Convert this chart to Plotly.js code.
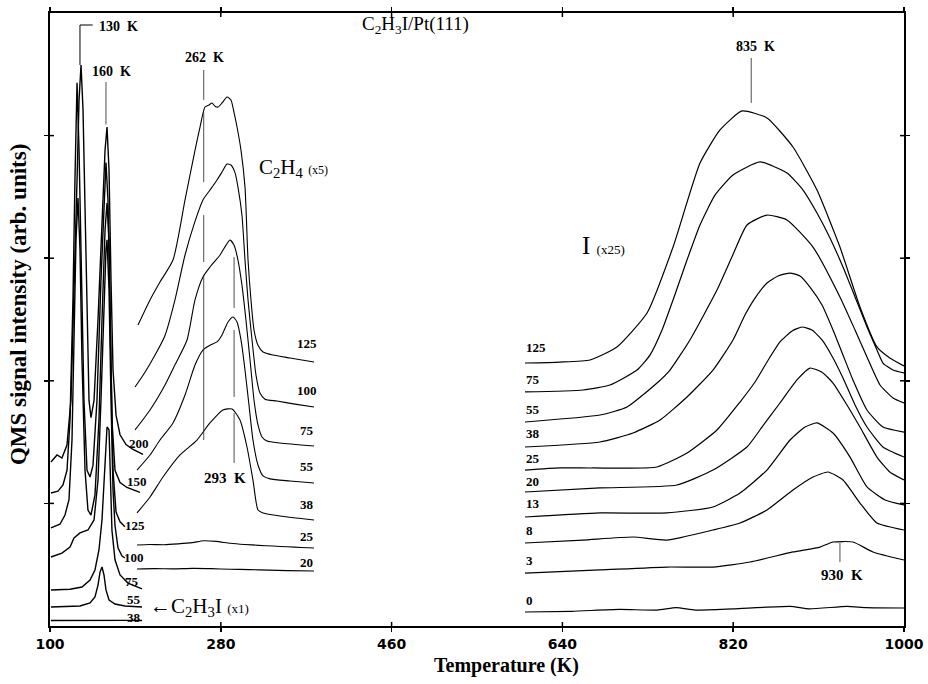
<!DOCTYPE html>
<html>
<head>
<meta charset="utf-8">
<script src="https://cdn.plot.ly/plotly-3.0.1.min.js"></script>
<style>html,body{margin:0;padding:0;background:#fff;}#chart{width:928px;height:684px;}</style>
</head>
<body>
<div id="chart"></div>
<script>
// ---------- C2H3I (x1) desorption, exposures (L) ----------
const L200_T = [101,107.4,112.6,117.9,122.1,125.3,128.5,130.6,132.7,134.8,136.9,139,141.1,143.2,146.4,150.6,154.8,158,160.1,162.2,164.3,166.4,169.6,173.8,180.1,187.5,198];
const L200_V = [1.338,1.395,1.37,1.476,1.843,2.66,3.64,4.29,4.576,4.21,3.47,2.5,1.84,1.7,1.84,2.5,3.31,3.88,4.07,3.72,2.82,2.09,1.72,1.56,1.48,1.44,1.40];
const L150_T = [101,108.4,113.7,117.9,121.1,124.2,126.3,128.5,130.6,132.7,135.8,139,142.2,145.3,149.5,153.7,156.9,159,161.1,163.2,165.3,168.5,173.8,181.1,194.8];
const L150_V = [1.085,1.10,1.15,1.27,1.68,2.66,3.64,4.43,3.88,2.99,1.84,1.27,1.215,1.31,1.84,2.82,3.47,3.78,3.47,2.50,1.68,1.27,1.17,1.13,1.09];
const L125_T = [101,110.5,115.8,120,123.2,125.3,127.4,129.5,131.6,133.7,136.9,140,143.2,147.4,151.6,154.8,158,160.1,162.2,164.3,166.4,169.6,173.8,179];
const L125_V = [0.80,0.83,0.905,1.03,1.52,2.33,3.15,3.49,3.07,2.17,1.27,0.946,0.905,1.07,1.68,2.50,3.23,3.45,3.15,2.17,1.27,0.93,0.85,0.81];
const L100_T = [101,112.6,121.1,125.3,131.6,140,146.4,150.6,153.7,156.9,159,160.1,162.2,164.3,166.4,168.5,171.7,175.9,179];
const L100_V = [0.563,0.595,0.644,0.718,0.759,0.783,0.865,1.19,1.84,2.66,3.07,3.15,2.74,1.84,1.11,0.82,0.636,0.571,0.555];
const L75_T = [101,121,133.7,142.2,147.4,151.6,154.8,156.9,159,160.1,162.2,163.2,165.3,168.5,173.8,182.2,197];
const L75_V = [0.294,0.30,0.318,0.375,0.457,0.62,0.865,1.19,1.52,1.623,1.60,1.27,0.78,0.54,0.416,0.35,0.302];
const L55_T = [101,131.6,142.2,147.4,150.6,152.7,154.8,156.9,159,162.2,168.5,179,197];
const L55_V = [0.155,0.163,0.188,0.237,0.334,0.44,0.481,0.416,0.294,0.212,0.179,0.163,0.155];
const L38_T = [101,120,140,160,180,197];
const L38_V = [0.045,0.046,0.046,0.05,0.046,0.045];

// ---------- C2H4 (x5) ----------
const E125_T = [192.7,205.4,215.9,229.6,242.3,252.8,258.1,263.3,267.6,270.7,273.9,277.1,281.3,286.5,290.7,293.9,297.1,301.3,305.5,308.7,311.8,315,319.2,324.5,335,352.9,378.2];
const E125_V = [2.455,2.66,2.806,2.985,3.475,3.88,4.07,4.233,4.25,4.266,4.24,4.233,4.266,4.315,4.29,4.19,4.07,3.88,3.58,2.985,2.66,2.414,2.29,2.235,2.21,2.186,2.153];
const E100_T = [189.6,200.1,210.7,221.2,231.7,242.3,252.8,261.2,268.6,276,281.3,286.5,290.7,294.9,298.1,302.3,305.5,308.7,312.9,317.1,321.3,326.6,339.2,358.2,378.2];
const E100_V = [1.949,2.07,2.21,2.37,2.66,3.026,3.30,3.475,3.556,3.638,3.703,3.768,3.76,3.70,3.58,3.35,2.985,2.66,2.333,2.047,1.90,1.85,1.835,1.81,1.786];
const E75_T = [189.6,205.4,221.2,231.7,244.4,252.8,261.2,268.6,279.2,285.5,289.7,293.9,298.1,302.3,306.5,310.8,315,319.2,323.4,328.7,342.4,378.2];
const E75_V = [1.599,1.762,1.966,2.13,2.333,2.66,2.847,2.928,3.026,3.107,3.148,3.107,2.985,2.78,2.496,2.17,1.843,1.64,1.542,1.509,1.493,1.468];
const E55_T = [191.7,205.4,215.9,229.6,242.3,252.8,261.2,268.6,276,281.3,287.6,292.9,297.1,301.3,305.5,309.7,313.9,319.2,324.5,331.8,352.9,378.2];
const E55_V = [1.272,1.395,1.517,1.656,1.884,2.129,2.251,2.29,2.317,2.374,2.48,2.52,2.48,2.333,2.088,1.803,1.517,1.313,1.224,1.20,1.183,1.166];
const E38_T = [191.7,205.4,219.1,237,254.9,268.6,282.3,291.8,300.2,307.6,313.9,319.2,324.5,342.4,378.2];
const E38_V = [0.922,1.052,1.215,1.395,1.517,1.656,1.762,1.77,1.68,1.46,1.19,0.946,0.922,0.897,0.865];
const E25_T = [191.7,205,220,235,250,262,275,290,305,320,335,350,365,378.2];
const E25_V = [0.661,0.665,0.663,0.67,0.68,0.695,0.69,0.675,0.665,0.658,0.652,0.646,0.64,0.636];
const E20_T = [191.7,210,230,250,270,290,310,330,350,378.2];
const E20_V = [0.465,0.468,0.466,0.47,0.468,0.463,0.46,0.456,0.452,0.449];

// ---------- I (x25) ----------
const I125_T = [600.6,637.5,669.1,697.5,729.2,756.6,785,806.1,829.3,855.6,883,908.3,932.5,953.6,971.5,985,1000];
const I125_V = [2.145,2.153,2.17,2.276,2.553,3.091,3.776,4.046,4.201,4.144,3.907,3.556,3.091,2.602,2.276,2.186,2.121];
const I75_T = [600.6,661.7,690.2,718.6,732.3,745,756.6,771.3,785,800.8,819.8,848.2,876.7,893.6,908.3,922,935.7,948.4,961,971.5,977.8,988.4,1000];
const I75_V = [1.909,1.925,1.966,2.088,2.21,2.414,2.659,2.985,3.271,3.515,3.679,3.785,3.695,3.556,3.369,3.165,2.928,2.684,2.439,2.251,2.145,2.088,2.064];
const I55_T = [600.6,679.6,708.1,739.7,753.4,774.4,802.9,819.8,834.5,855.6,876.7,904.1,932.5,948.4,961,974.7,988.4,1000];
const I55_V = [1.664,1.721,1.786,1.982,2.088,2.333,2.74,3.03,3.271,3.352,3.312,3.091,2.684,2.414,2.194,1.966,1.86,1.819];
const I38_T = [600.6,679.6,714.4,742.9,771.3,798.7,819.8,832.4,843,855.6,867.2,879.9,890.4,900.9,913.6,925.2,935.7,946.2,961,977.8,1000];
const I38_V = [1.46,1.501,1.574,1.68,1.868,2.088,2.333,2.537,2.675,2.798,2.855,2.879,2.855,2.765,2.618,2.414,2.21,2.007,1.762,1.623,1.582];
const I25_T = [600.6,637.5,672.2,739.7,771.3,802.9,827.2,843,855.6,869.3,882,892.5,903,913.6,925.2,935.7,948.4,961,977.8,1000];
const I25_V = [1.272,1.289,1.289,1.297,1.411,1.599,1.827,1.99,2.153,2.317,2.406,2.439,2.414,2.333,2.186,2.023,1.803,1.623,1.46,1.378];
const I20_T = [600.6,679.6,760.8,798.7,834.5,852,869.3,887.2,900.9,913.6,925.2,939.9,953.6,971.5,985,1000];
const I20_V = [1.093,1.126,1.15,1.272,1.46,1.64,1.819,2.007,2.104,2.07,1.982,1.803,1.623,1.378,1.256,1.191];
const I13_T = [600.6,679.6,750.2,798.7,827.2,855.6,879.9,895.7,908.3,925.2,943.1,961,980,1000];
const I13_V = [0.889,0.922,0.922,0.971,1.085,1.272,1.517,1.623,1.656,1.574,1.378,1.134,1.028,0.987];
const I8_T = [600.6,661.7,714.4,750.2,798.7,827.2,855.6,883,904.1,919.9,935.7,953.6,971.5,1000];
const I8_V = [0.677,0.701,0.726,0.701,0.783,0.84,0.946,1.109,1.215,1.256,1.191,1.003,0.84,0.783];
const I3_T = [600.6,679.6,750.2,798.7,837.7,883,911.5,925.2,946.2,967.3,1000];
const I3_V = [0.432,0.457,0.481,0.481,0.522,0.604,0.644,0.685,0.685,0.604,0.538];
const I0_T = [600.6,650,700,740,760,780,820,880,900,940,960,1000];
const I0_V = [0.114,0.12,0.135,0.13,0.15,0.13,0.14,0.16,0.14,0.16,0.15,0.147];

// ---------- labels ----------
const xTickVals = [100,280,460,640,820,1000];
const xTickText = ["100","280","460","640","820","1000"];
const yTickVals = [1,2,3,4];
const leftLabels = ["200","150","125","100","75","55","38"];
const leftLabelT = [193.3,191.2,189.6,188,186,188,188];
const leftLabelV = [1.489,1.179,0.816,0.559,0.367,0.22,0.073];
const midLabels = ["125","100","75","55","38","25","20"];
const midLabelV = [2.308,1.917,1.591,1.297,0.987,0.726,0.522];
const rightLabels = ["125","75","55","38","25","20","13","8","3","0"];
const rightLabelV = [2.268,2.007,1.762,1.574,1.37,1.175,1.003,0.783,0.538,0.212];
// peak markers (K): position and vertical segments
const markT = [262, 294, 839, 932.5, 159];
const markSegs = [
  [[4.535,4.29],[4.19,3.62],[3.352,2.969],[2.863,1.517]],
  [[3.01,2.594],[2.414,1.868],[1.737,1.33]],
  [[4.633,4.266]],
  [[0.677,0.522]],
  [[4.437,4.09]]
];
const bracket130 = {T:[131.6,131.6,145], V:[4.576,4.902,4.902]};

const serif = "Liberation Serif, Times New Roman, serif";
const traces = [];
function addCurve(T, V, w, shape, sm) {
  traces.push({x:T, y:V, type:'scatter', mode:'lines', hoverinfo:'skip',
    line:{color:'#000', width:w, shape:shape, smoothing:sm}});
}
[[L200_T,L200_V],[L150_T,L150_V],[L125_T,L125_V],[L100_T,L100_V],[L75_T,L75_V],[L55_T,L55_V],[L38_T,L38_V]]
  .forEach(c => addCurve(c[0], c[1], 1.4, 'linear', 0));
[[E125_T,E125_V],[E100_T,E100_V],[E75_T,E75_V],[E55_T,E55_V],[E38_T,E38_V],[E25_T,E25_V],[E20_T,E20_V]]
  .forEach(c => addCurve(c[0], c[1], 1.1, 'spline', 0.6));
[[I125_T,I125_V],[I75_T,I75_V],[I55_T,I55_V],[I38_T,I38_V],[I25_T,I25_V],[I20_T,I20_V],[I13_T,I13_V],[I8_T,I8_V],[I3_T,I3_V],[I0_T,I0_V]]
  .forEach(c => addCurve(c[0], c[1], 1.2, 'spline', 0.5));
traces.push({x:bracket130.T, y:bracket130.V, type:'scatter', mode:'lines', hoverinfo:'skip', line:{color:'#000', width:1}});

const shapes = [];
markT.forEach((t, i) => {
  markSegs[i].forEach(s => {
    shapes.push({type:'line', xref:'x', yref:'y', x0:t, x1:t, y0:s[0], y1:s[1], line:{color:'#222', width:0.8}});
  });
});
// inner halves of the crossing tick marks
xTickVals.slice(1,5).forEach(v => {
  shapes.push({type:'line', xref:'x', yref:'paper', ysizemode:'pixel', yanchor:0, x0:v, x1:v, y0:0, y1:4, line:{color:'#000', width:1.5}});
  shapes.push({type:'line', xref:'x', yref:'paper', ysizemode:'pixel', yanchor:1, x0:v, x1:v, y0:0, y1:-4, line:{color:'#000', width:1.5}});
});
yTickVals.forEach(v => {
  shapes.push({type:'line', yref:'y', xref:'paper', xsizemode:'pixel', xanchor:0, y0:v, y1:v, x0:0, x1:4, line:{color:'#000', width:1.5}});
  shapes.push({type:'line', yref:'y', xref:'paper', xsizemode:'pixel', xanchor:1, y0:v, y1:v, x0:0, x1:-4, line:{color:'#000', width:1.5}});
});

const annotations = [];
function ann(text, x, y, size, opts) {
  annotations.push(Object.assign({text:text, x:x, y:y, xref:'x', yref:'y', showarrow:false,
    font:{family:serif, size:size, color:'#000', weight:'bold'}, xanchor:'center', yanchor:'middle'}, opts||{}));
}
leftLabels.forEach((t,i) => ann(t, leftLabelT[i], leftLabelV[i], 13));
midLabels.forEach((t,i) => ann(t, 370.5, midLabelV[i], 13));
rightLabels.forEach((t,i) => ann(t, 600, rightLabelV[i], 13, {xanchor:'left'}));
ann('130  K', 149.5, 4.886, 14, {xanchor:'left'});
ann('160  K', 165.3, 4.519, 14);
ann('262  K', 263.3, 4.633, 14);
ann('293  K', 284.4, 1.207, 15);
ann('835  K', 843, 4.723, 14);
ann('930  K', 934.6, 0.416, 15);
ann('C<sub>2</sub>H<sub>3</sub>I/Pt(111)', 485, 4.90, 19, {font:{family:serif,size:19,color:'#000'}});
ann('C<sub>2</sub>H<sub>4</sub> <span style="font-size:12px">(x5)</span>', 318, 3.736, 21, {xanchor:'left', font:{family:serif,size:21,color:'#000'}});
ann('I <span style="font-size:13px">(x25)</span>', 658.5, 3.10, 25, {xanchor:'left', font:{family:serif,size:25,color:'#000'}});
ann('\u2190C<sub>2</sub>H<sub>3</sub>I <span style="font-size:13px">(x1)</span>', 203.3, 0.155, 21, {xanchor:'left', font:{family:serif,size:21,color:'#000'}});
annotations.push({text:'QMS signal intensity (arb. units)', xref:'paper', yref:'paper', x:-0.036, y:0.524,
  textangle:-90, showarrow:false, xanchor:'center', yanchor:'middle',
  font:{family:serif, size:23, color:'#000', weight:'bold'}});
annotations.push({text:'Temperature (K)', xref:'paper', yref:'paper', x:0.534, y:-0.064,
  showarrow:false, xanchor:'center', yanchor:'middle',
  font:{family:serif, size:20, color:'#000', weight:'bold'}});

const axBase = {showgrid:false, zeroline:false, showline:true, linecolor:'#000', linewidth:2,
  mirror:'ticks', ticks:'outside', ticklen:4, tickwidth:1.5, tickcolor:'#000'};
const layout = {
  width:928, height:684, showlegend:false,
  margin:{l:50, r:24, t:13, b:58},
  paper_bgcolor:'#fff', plot_bgcolor:'#fff',
  xaxis:Object.assign({}, axBase, {range:[100,1000], tickvals:xTickVals, ticktext:xTickText,
    tickfont:{family:'DejaVu Sans, sans-serif', size:14, color:'#000', weight:'bold'}}),
  yaxis:Object.assign({}, axBase, {range:[0,5], tickvals:yTickVals, showticklabels:false}),
  shapes:shapes, annotations:annotations
};
Plotly.newPlot('chart', traces, layout, {staticPlot:true, displayModeBar:false});
</script>
</body>
</html>
